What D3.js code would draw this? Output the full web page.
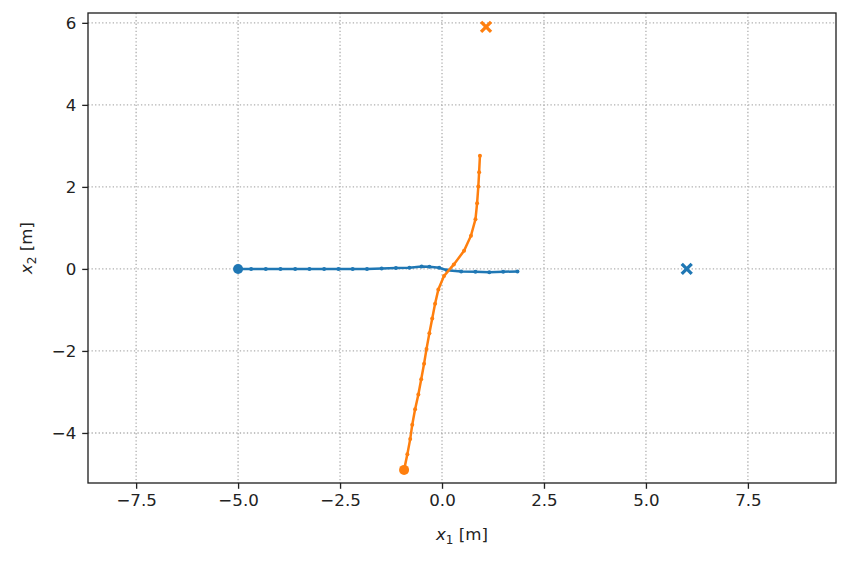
<!DOCTYPE html>
<html><head><meta charset="utf-8">
<script src="https://cdn.jsdelivr.net/npm/d3@7"></script>
<style>body{margin:0;background:#fff}svg{display:block}text{font-family:"DejaVu Sans",sans-serif}</style>
</head><body><div id="chart"></div>
<script>
const xTicks = [-7.5, -5.0, -2.5, 0.0, 2.5, 5.0, 7.5];
const yTicks = [-4, -2, 0, 2, 4, 6];
const xDomain = [-8.68, 9.66];
const yDomain = [-5.22, 6.24];

const blueX = [-5.0, -4.68, -4.32, -3.96, -3.6, -3.25, -2.89, -2.54, -2.19, -1.84, -1.48, -1.13, -0.8, -0.5, -0.31, -0.07, 0.12, 0.47, 0.82, 1.16, 1.5, 1.85];
const blueY = [0, 0, 0, 0, 0, 0, 0, 0, 0, 0, 0.01, 0.02, 0.03, 0.06, 0.05, 0.03, -0.03, -0.06, -0.07, -0.08, -0.07, -0.06];
const orangeX = [-0.93, -0.85, -0.78, -0.73, -0.66, -0.58, -0.51, -0.44, -0.38, -0.31, -0.24, -0.17, -0.09, 0.05, 0.29, 0.54, 0.71, 0.82, 0.86, 0.89, 0.91, 0.93];
const orangeY = [-4.9, -4.52, -4.15, -3.8, -3.42, -3.06, -2.69, -2.31, -1.95, -1.57, -1.21, -0.85, -0.5, -0.17, 0.11, 0.44, 0.81, 1.21, 1.6, 2.01, 2.36, 2.76];
const goalsX = [6.0, 1.08];
const goalsY = [0.0, 5.9];
const colors = ["#1f77b4", "#ff7f0e"];

const W = 849, H = 561;
const m = {left: 88, top: 13, right: 13, bottom: 78};
const FS = 16.67;
const svg = d3.select("#chart").append("svg").attr("width", W).attr("height", H);
const x = d3.scaleLinear().domain(xDomain).range([m.left, W - m.right]);
const y = d3.scaleLinear().domain(yDomain).range([H - m.bottom, m.top]);
const fmt = d => (d < 0 ? "\u2212" : "") + Math.abs(d).toFixed(1);
const fmtY = d => (d < 0 ? "\u2212" : "") + Math.abs(d);

// grid
const grid = svg.append("g");
grid.selectAll(".gx").data(xTicks).join("line")
  .attr("x1", d => x(d)).attr("x2", d => x(d)).attr("y1", m.top).attr("y2", H - m.bottom)
  .attr("stroke", "#b0b0b0").attr("stroke-width", 1.33).attr("stroke-dasharray", "1.33,2.2");
grid.selectAll(".gy").data(yTicks).join("line")
  .attr("y1", d => y(d)).attr("y2", d => y(d)).attr("x1", m.left).attr("x2", W - m.right)
  .attr("stroke", "#b0b0b0").attr("stroke-width", 1.33).attr("stroke-dasharray", "1.33,2.2");

// axes
const xa = svg.append("g").attr("transform", `translate(0,${H - m.bottom})`)
  .call(d3.axisBottom(x).tickValues(xTicks).tickFormat(fmt).tickSize(5.8).tickSizeOuter(0).tickPadding(5.8));
const ya = svg.append("g").attr("transform", `translate(${m.left},0)`)
  .call(d3.axisLeft(y).tickValues(yTicks).tickFormat(fmtY).tickSize(5.8).tickSizeOuter(0).tickPadding(5.8));
[xa, ya].forEach(a => {
  a.select(".domain").remove();
  a.selectAll("line").attr("stroke", "#222").attr("stroke-width", 1.33);
  a.selectAll("text").attr("font-size", FS).attr("fill", "#222").attr("font-family", "DejaVu Sans");
});

// data
const series = [
  {xs: blueX, ys: blueY, c: colors[0]},
  {xs: orangeX, ys: orangeY, c: colors[1]}
];
const line = d3.line().x(d => x(d[0])).y(d => y(d[1]));
series.forEach(s => {
  const pts = s.xs.map((v, i) => [v, s.ys[i]]);
  const g = svg.append("g");
  g.append("path").datum(pts).attr("d", line).attr("fill", "none").attr("stroke", s.c).attr("stroke-width", 2.5);
  g.selectAll("circle.s").data(pts).join("circle")
    .attr("cx", d => x(d[0])).attr("cy", d => y(d[1])).attr("r", 2).attr("fill", s.c);
  g.append("circle").attr("cx", x(pts[0][0])).attr("cy", y(pts[0][1])).attr("r", 5).attr("fill", s.c);
});
// goals
goalsX.forEach((gx, i) => {
  const cx = x(gx), cy = y(goalsY[i]), r = 5;
  svg.append("path").attr("d", `M${cx - r},${cy - r}L${cx + r},${cy + r}M${cx - r},${cy + r}L${cx + r},${cy - r}`)
    .attr("stroke", colors[i]).attr("stroke-width", 3.3).attr("fill", "none");
});

// frame
svg.append("rect").attr("x", m.left).attr("y", m.top).attr("width", W - m.left - m.right).attr("height", H - m.top - m.bottom)
  .attr("fill", "none").attr("stroke", "#222").attr("stroke-width", 1.33);

// labels
const xl = svg.append("text").attr("x", (m.left + W - m.right) / 2).attr("y", 540).attr("text-anchor", "middle")
  .attr("font-size", FS).attr("fill", "#222");
xl.append("tspan").attr("font-style", "italic").text("x");
xl.append("tspan").attr("font-size", 12).attr("dy", 3.5).text("1");
xl.append("tspan").attr("dy", -3.5).text(" [m]");
const yl = svg.append("text").attr("transform", `translate(32,${(m.top + H - m.bottom) / 2}) rotate(-90)`).attr("text-anchor", "middle")
  .attr("font-size", FS).attr("fill", "#222");
yl.append("tspan").attr("font-style", "italic").text("x");
yl.append("tspan").attr("font-size", 12).attr("dy", 3.5).text("2");
yl.append("tspan").attr("dy", -3.5).text(" [m]");
</script></body></html>
